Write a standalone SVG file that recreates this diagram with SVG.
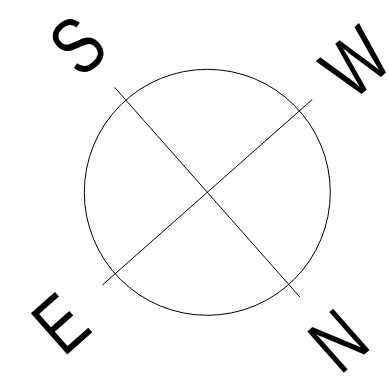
<svg xmlns="http://www.w3.org/2000/svg" width="389" height="380" viewBox="0 0 389 380">
<style>
.ln{fill:none;stroke:#000;stroke-width:1}
.lt{font-family:"Liberation Sans",Arial,sans-serif;font-size:80px;fill:#000;text-anchor:middle}
</style>
<rect width="389" height="380" fill="#fff"/>
<g id="ring"><circle class="ln" cx="207.3" cy="192.3" r="123"/></g>
<g id="connectors">
<line class="ln" x1="114.6" y1="87.4" x2="300" y2="297.2"/>
<line class="ln" x1="312.2" y1="99.6" x2="102.4" y2="285"/>
</g>
<g id="S" transform="translate(76.8,44.8) rotate(-41.5) scale(0.77,1)"><text class="lt" x="0" y="28.6">S</text></g>
<g id="W" transform="translate(354.8,61.8) rotate(-41.5) scale(0.77,1)"><text class="lt" x="0" y="28.6">W</text></g>
<g id="E" transform="translate(59.8,322.8) rotate(-41.5) scale(0.77,1)"><text class="lt" x="0" y="28.6">E</text></g>
<g id="N" transform="translate(337.8,339.9) rotate(-41.5) scale(0.77,1)"><text class="lt" x="0" y="28.6">N</text></g>
</svg>
